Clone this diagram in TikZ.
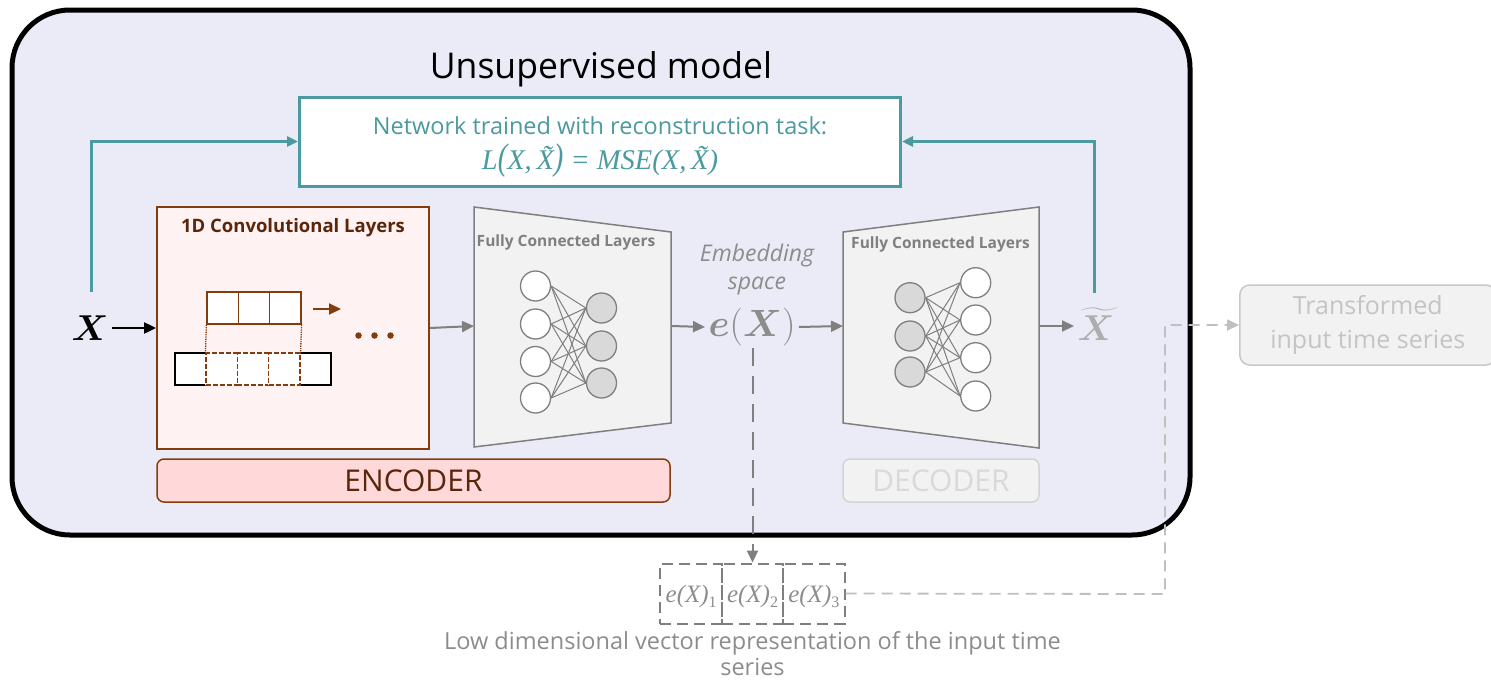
\RequirePackage{fix-cm}
\documentclass[tikz,border=0pt]{standalone}
\usepackage{fontspec}
\setmainfont{Open Sans}
\newfontfamily\formulafont{Liberation Serif}
\usepackage{amsmath,bm}
\usetikzlibrary{arrows.meta,calc}

\definecolor{modelfill}{HTML}{EBEBF7}
\definecolor{tealc}{HTML}{4A9A9F}
\definecolor{brownc}{HTML}{843C0C}
\definecolor{browntext}{HTML}{5A260B}
\definecolor{convfill}{HTML}{FFF2F2}
\definecolor{encfill}{HTML}{FFD9D9}
\definecolor{fcgray}{HTML}{7F7F7F}
\definecolor{fcfill}{HTML}{F2F2F2}
\definecolor{nodegray}{HTML}{D9D9D9}
\definecolor{softgray}{HTML}{8C8C8C}
\definecolor{palegray}{HTML}{C4C4C4}
\definecolor{palestroke}{HTML}{C8C8C8}

% font size with a matching baseline skip
\newcommand{\fs}[2]{\fontsize{#1}{#2}\selectfont}
% component of the embedding vector, e.g. e(X) with index 1
\newcommand{\comp}[1]{e(X)\raisebox{-5pt}{\upshape\fs{16}{16}#1}}

\begin{document}
\begin{tikzpicture}[x=1pt,y=-1pt,
  cell/.style={draw=brownc, line width=1.6pt, fill=white, minimum width=31.2pt, minimum height=32pt, inner sep=0pt},
  incell/.style={draw=black, line width=1.6pt, fill=white, minimum width=31.2pt, minimum height=32pt, inner sep=0pt},
  wincell/.style={draw=brownc, line width=1.5pt, dash pattern=on 5pt off 2pt, preaction={draw=white, solid}, fill=white, minimum width=31.2pt, minimum height=32pt, inner sep=0pt},
  neuron/.style={circle, draw=fcgray, line width=1.3pt, fill=white, minimum size=30pt, inner sep=0pt},
  hidden/.style={neuron, fill=nodegray},
  wire/.style={draw=fcgray, line width=1pt},
  grayarrow/.style={draw=fcgray, line width=2pt, -{Triangle[length=12pt,width=11pt]}},
  tealarrow/.style={draw=tealc, line width=3pt, -{Triangle[length=11pt,width=10pt]}},
  fctitle/.style={text=fcgray, font=\bfseries\fs{15.5}{18}},
  vecbox/.style={draw=fcgray, line width=2pt, dash pattern=on 11pt off 6pt, minimum width=61.5pt, minimum height=60pt, inner sep=0pt},
  comptext/.style={text=softgray, font=\formulafont\itshape\fs{25}{26}, inner sep=0pt},
]
\useasboundingbox (0,0) rectangle (1491,680);

% outer frame of the model
\node[draw=black, line width=5pt, fill=modelfill, rounded corners=58pt,
      minimum width=1178pt, minimum height=525pt] (model) at (601,272.5) {};
\node[font=\fs{35.5}{40}] (title) at (601,69) {Unsupervised model};

% loss box
\node[draw=tealc, line width=3pt, fill=white, minimum width=601pt, minimum height=89pt] (loss) at (600,141.5) {};
\node[text=tealc, font=\fs{23.5}{26}] (losstxt) at (600,126) {Network trained with reconstruction task:};
\node[text=tealc, font=\formulafont\itshape\fs{28.5}{30}] (lossfml) at (600,161)
  {L\scalebox{1}[1.3]{(}X,\,X̃\scalebox{1}[1.3]{)} = MSE(X,\,X̃)};

% input
\node[font=\fs{36}{40}] (x) at (90,328) {$\bm{X}$};
\coordinate (fbL) at (91,292);

% 1D convolution block
\node[draw=brownc, line width=1.8pt, fill=convfill, minimum width=272pt, minimum height=242pt] (conv) at (293,328) {};
\node[text=browntext, font=\bfseries\fs{18.5}{20}] (convtitle) at (293,228) {1D Convolutional Layers};

\foreach \i/\cx in {1/222.8, 2/254, 3/285.2}
  \node[cell] (k\i) at (\cx,308) {};
\foreach \i/\cx in {1/190.6, 5/315.4}
  \node[incell] (b\i) at (\cx,369) {};
\foreach \i/\cx in {2/221.8, 3/253, 4/284.2}
  \node[wincell] (b\i) at (\cx,369) {};
\draw[brownc, line width=1.3pt, densely dotted] (k1.south west) -- (b2.north west);
\draw[brownc, line width=1.3pt, densely dotted] (k3.south east) -- (b4.north east);
\coordinate (sl0) at (313,309);
\coordinate (sl1) at (341,309);
\draw[brownc, line width=2pt, -{Triangle[length=12pt,width=11pt]}] (sl0) -- (sl1);
\foreach \i/\cx in {1/358.5, 2/374.5, 3/390.5}
  \node[circle, fill=brownc, minimum size=6.5pt, inner sep=0pt] (dot\i) at (\cx,335.5) {};

% encoder fully connected block
\draw[fcgray, line width=1.5pt, fill=fcfill] (474,207) -- (671,232) -- (671,423) -- (474,447) -- cycle;
\coordinate (encin) at (474,326);
\coordinate (encout) at (671,326);
\node[fctitle] (enctitle) at (566,242) {Fully Connected Layers};
\foreach \i/\cy in {1/286, 2/324, 3/361.5, 4/398}
  \node[neuron] (ea\i) at (535.5,\cy) {};
\foreach \i/\cy in {1/308, 2/346, 3/383}
  \node[hidden] (eb\i) at (601.5,\cy) {};
\foreach \i in {1,...,4}
  \foreach \j in {1,...,3}
    \draw[wire] (ea\i.east) -- (eb\j.west);

% embedding
\node[text=softgray, font=\itshape\fs{23}{28}, align=center] (embtxt) at (757,270) {Embedding\\space};
\node[text=softgray, font=\fs{38}{42}] (ex) at (752,327) {$\bm{e}(\bm{X})$};

% decoder fully connected block
\draw[fcgray, line width=1.5pt, fill=fcfill] (843,232) -- (1039,207) -- (1039,448) -- (843,423) -- cycle;
\coordinate (decin) at (843,326);
\coordinate (decout) at (1039,326);
\node[fctitle] (dectitle) at (940.5,244) {Fully Connected Layers};
\foreach \i/\cy in {1/297.7, 2/336, 3/372}
  \node[hidden] (da\i) at (910,\cy) {};
\foreach \i/\cy in {1/282.7, 2/320, 3/357.7, 4/396}
  \node[neuron] (db\i) at (975.7,\cy) {};
\foreach \i in {1,...,3}
  \foreach \j in {1,...,4}
    \draw[wire] (da\i.east) -- (db\j.west);

% reconstruction
\node[text=black!32, font=\fs{36}{40}] (xt) at (1096,324) {$\widetilde{\bm{X}}$};
\coordinate (fbR) at (1094,293);

% main data flow
\draw[black, line width=2pt, -{Triangle[length=12pt,width=11pt]}] (x.east) -- (conv.west);
\draw[grayarrow] (conv.east) -- (encin);
\draw[grayarrow] (encout) -- (ex.west);
\draw[grayarrow] (ex.east) -- (decin);
\draw[grayarrow] (decout) -- (xt.west |- decout);

% feedback to the loss
\draw[tealarrow] (fbL) |- (loss.west);
\draw[tealarrow] (fbR) |- (loss.east);

% encoder / decoder labels
\node[draw=brownc, line width=1.5pt, fill=encfill, rounded corners=7pt,
      minimum width=513pt, minimum height=43pt, text=browntext, font=\fs{30}{32}] (enc) at (413.5,480.5) {ENCODER};
\node[draw=palestroke!80, line width=1.5pt, fill=fcfill, rounded corners=7pt,
      minimum width=196pt, minimum height=43pt, text=nodegray, font=\fs{30}{32}] (dec) at (941,480.5) {DECODER};

% embedding vector
\node[vecbox] (v1) at (691.2,593.5) {};
\node[vecbox] (v2) at (752.5,593.5) {};
\node[vecbox] (v3) at (813.8,593.5) {};
\node[comptext] (v1t) at (691.2,596) {\comp{1}};
\node[comptext] (v2t) at (752.5,596) {\comp{2}};
\node[comptext] (v3t) at (813.8,596) {\comp{3}};
\coordinate (exdown) at (752.5,348);
\draw[draw=fcgray, line width=2pt, dash pattern=on 18pt off 10pt, -{Triangle[length=12pt,width=11pt]}] (exdown) -- (v2.north);
\node[text=softgray, font=\fs{23.5}{26}, align=center] (vecdesc) at (752.5,654)
  {Low dimensional vector representation of the input time\\series};

% transformed output
\node[draw=palestroke, line width=1.5pt, fill=fcfill, rounded corners=10pt,
      minimum width=256pt, minimum height=80pt, text=palegray, font=\fs{25}{34}, align=center, anchor=west] (out) at (1239,325)
  {Transformed\\input time series};
\coordinate (bend) at (1165,594);
\draw[draw=black!25, line width=1.8pt, dash pattern=on 11pt off 7pt, -{Triangle[length=12pt,width=11pt]}]
  (v3.east) -- (bend) |- (out.west);
\end{tikzpicture}
\end{document}
